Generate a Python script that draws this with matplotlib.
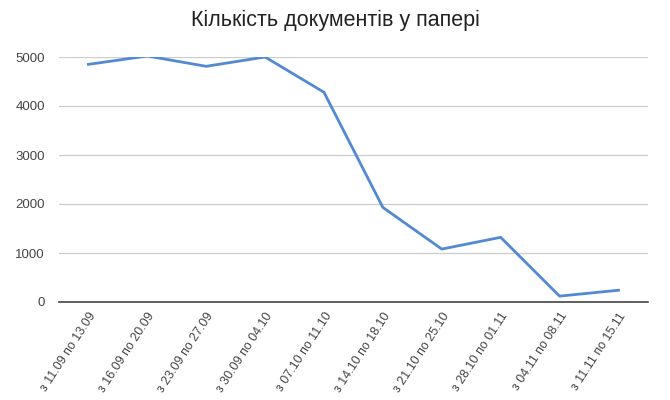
import matplotlib.pyplot as plt

plt.rcParams['font.family'] = ['Liberation Sans', 'DejaVu Sans']

# data
weeks = ['з 11.09 по 13.09', 'з 16.09 по 20.09', 'з 23.09 по 27.09',
         'з 30.09 по 04.10', 'з 07.10 по 11.10', 'з 14.10 по 18.10',
         'з 21.10 по 25.10', 'з 28.10 по 01.11', 'з 04.11 по 08.11',
         'з 11.11 по 15.11']
docs = [4850, 5020, 4810, 5000, 4280, 1930, 1080, 1320, 120, 240]
yticks = [0, 1000, 2000, 3000, 4000, 5000]

fig = plt.figure(figsize=(6.7, 4), dpi=100)
ax = fig.add_axes([0.088, 0.245, 0.879, 0.6125])

x = range(len(weeks))
ax.plot(x, docs, color='#5389d2', lw=2)

ax.set_xlim(-0.5, len(weeks) - 0.5)
ax.set_ylim(0, 5000)
ax.set_yticks(yticks)
ax.set_xticks(list(x))
ax.set_xticklabels(weeks, rotation=57, ha='right', rotation_mode='anchor',
                   fontsize=9, color='#444444')
ax.tick_params(axis='y', labelsize=9.5, colors='#444444', length=0, pad=10)
ax.tick_params(axis='x', length=0, pad=6)

ax.grid(axis='y', color='#cccccc', lw=0.9)
ax.set_axisbelow(True)
for s in ['top', 'right', 'left']:
    ax.spines[s].set_visible(False)
ax.spines['bottom'].set_color('#444444')
ax.spines['bottom'].set_linewidth(1.2)

fig.suptitle('Кількість документів у папері', fontsize=15.5, color='#222222', y=0.975)

fig.savefig('out.png', dpi=100)
